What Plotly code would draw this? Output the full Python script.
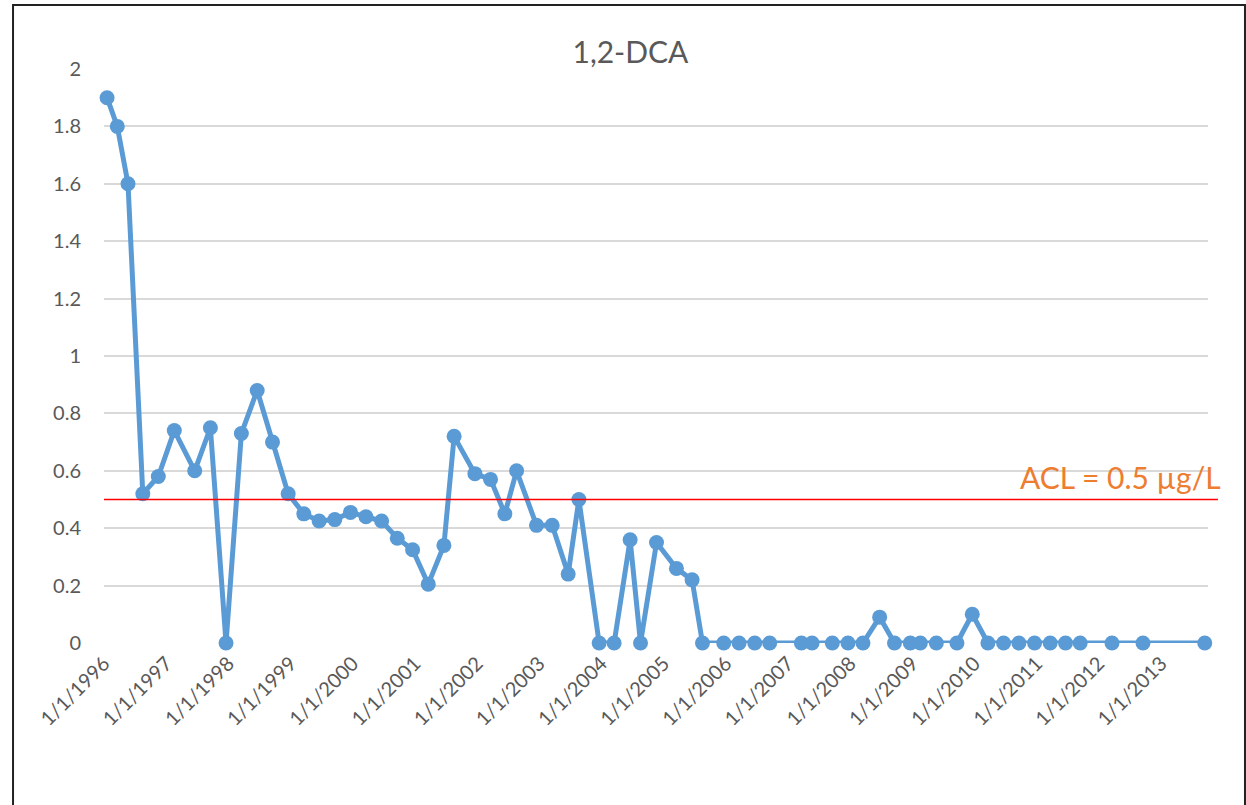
import plotly.graph_objects as go

dates = [
    "1996-01-19", "1996-03-19", "1996-05-21", "1996-08-16", "1996-11-15",
    "1997-02-17", "1997-06-17", "1997-09-17", "1997-12-18", "1998-03-18",
    "1998-06-19", "1998-09-17", "1998-12-18", "1999-03-20", "1999-06-18",
    "1999-09-18", "1999-12-19", "2000-03-19", "2000-06-19", "2000-09-19",
    "2000-12-18", "2001-03-20", "2001-06-20", "2001-08-19", "2001-12-19",
    "2002-03-21", "2002-06-13", "2002-08-21", "2002-12-16", "2003-03-18",
    "2003-06-20", "2003-08-22", "2003-12-19", "2004-03-16", "2004-06-18",
    "2004-08-18", "2004-11-20", "2005-03-17", "2005-06-17", "2005-08-17",
    "2005-12-20", "2006-03-20", "2006-06-20", "2006-09-16", "2007-03-21",
    "2007-05-23", "2007-09-19", "2007-12-20", "2008-03-17", "2008-06-23",
    "2008-09-18", "2008-12-20", "2009-02-17", "2009-05-22", "2009-09-20",
    "2009-12-19", "2010-03-21", "2010-06-21", "2010-09-19", "2010-12-20",
    "2011-03-22", "2011-06-20", "2011-09-14", "2012-03-19", "2012-09-17",
    "2013-09-15",
]

dca = [
    1.9, 1.8, 1.6, 0.52, 0.58,
    0.74, 0.60, 0.75, 0.0, 0.73,
    0.88, 0.70, 0.52, 0.45, 0.425,
    0.43, 0.455, 0.44, 0.425, 0.365,
    0.325, 0.205, 0.34, 0.72, 0.59,
    0.57, 0.45, 0.60, 0.41, 0.41,
    0.24, 0.50, 0.0, 0.0, 0.36,
    0.0, 0.35, 0.26, 0.22, 0.0,
    0.0, 0.0, 0.0, 0.0, 0.0,
    0.0, 0.0, 0.0, 0.0, 0.09,
    0.0, 0.0, 0.0, 0.0, 0.0,
    0.10, 0.0, 0.0, 0.0, 0.0,
    0.0, 0.0, 0.0, 0.0, 0.0,
    0.0,
]

tick_dates = [f"{y}-01-01" for y in range(1996, 2014)]
tick_labels = [f"1/1/{y}" for y in range(1996, 2014)]
y_ticks = [0, 0.2, 0.4, 0.6, 0.8, 1, 1.2, 1.4, 1.6, 1.8, 2]
y_labels = ["0", "0.2", "0.4", "0.6", "0.8", "1", "1.2", "1.4", "1.6", "1.8", "2"]

acl_value = 0.5
acl_label = "ACL = 0.5 µg/L"
title_text = "1,2-DCA"

FONT = "Lato, 'Open Sans', sans-serif"
GREY = "#595959"

fig = go.Figure()
fig.add_trace(go.Scatter(
    x=dates, y=dca, mode="lines+markers",
    line=dict(color="#5B9BD5", width=5),
    marker=dict(color="#5B9BD5", size=15),
    cliponaxis=False, showlegend=False,
))

fig.add_shape(type="line", xref="paper", yref="y",
              x0=0, x1=1.009, y0=acl_value, y1=acl_value,
              line=dict(color="#FF0000", width=1.5), layer="above")

fig.add_annotation(xref="paper", yref="y", x=1.0136, y=0.58,
                   xanchor="right", yanchor="middle", showarrow=False,
                   text=acl_label, font=dict(family=FONT, size=30, color="#ED7D31"))

# outer chart border
fig.add_shape(type="rect", xref="paper", yref="paper",
              x0=-0.0824, x1=1.0335, y0=-0.4, y1=1.1115,
              line=dict(color="#222222", width=2), layer="below")

fig.update_layout(
    width=1246, height=805,
    margin=dict(l=104, r=38, t=69, b=162),
    paper_bgcolor="white", plot_bgcolor="white",
    title=dict(text=title_text, x=0.506, xanchor="center", y=0.935, yanchor="middle",
               font=dict(family=FONT, size=30, color=GREY)),
    font=dict(family=FONT, size=20, color=GREY),
    xaxis=dict(type="date", range=["1996-01-01", "2013-10-04"],
               tickvals=tick_dates, ticktext=tick_labels, tickangle=-45,
               showgrid=False, zeroline=False, showline=False,
               tickfont=dict(family=FONT, size=20, color=GREY),
               ticklabelstandoff=4),
    yaxis=dict(range=[0, 2], tickvals=y_ticks, ticktext=y_labels,
               showgrid=True, gridcolor="#D9D9D9", gridwidth=1.5,
               zeroline=False, showline=False,
               tickfont=dict(family=FONT, size=20, color=GREY),
               ticklabelstandoff=22),
)

fig.write_html("out.html",
               config={"displayModeBar": False},
               post_script="document.body.style.margin='0';document.body.style.overflow='hidden';")
